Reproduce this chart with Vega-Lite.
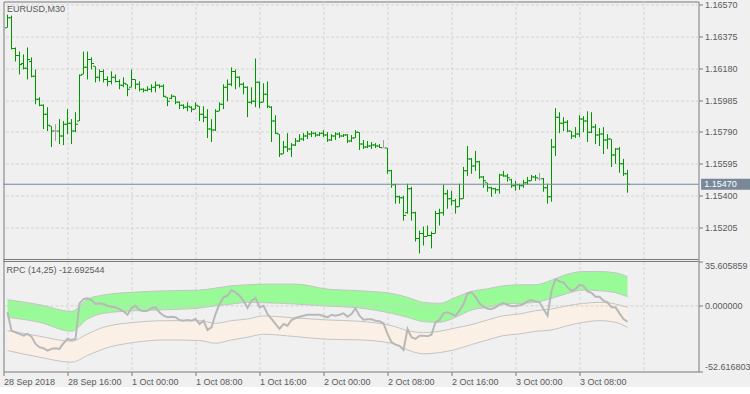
{
"$schema": "https://vega.github.io/schema/vega-lite/v6.json",
"background": "#f0f0f0",
"padding": {"left": 2.5, "top": 0.5, "right": 0, "bottom": 0},
"autosize": {"type": "pad"},
"width": 695,
"height": 370,
"config": {
 "view": {"stroke": "#7a7a7a", "strokeWidth": 1},
 "font": "Liberation Sans",
 "axis": {"labelFont": "Liberation Sans", "labelFontSize": 9, "labelColor": "#5a5a5a", "tickColor": "#7a7a7a", "gridColor": "#d4d4d4", "gridDash": [3, 2]}
},
"resolve": {"scale": {"y": "independent"}, "axis": {"y": "independent"}},
"datasets": {
"bars": [
{"k":0,"o":1.16429,"h":1.16509,"l":1.16429,"c":1.1649,"rpc":-5.15},
{"k":1,"o":1.1649,"h":1.16503,"l":1.16295,"c":1.16301,"rpc":-19.85},
{"k":2,"o":1.16301,"h":1.16308,"l":1.16222,"c":1.16259,"rpc":-21.13},
{"k":3,"o":1.16259,"h":1.16283,"l":1.16143,"c":1.16204,"rpc":-22.49},
{"k":4,"o":1.1621,"h":1.16265,"l":1.16173,"c":1.1618,"rpc":-23.85},
{"k":5,"o":1.1618,"h":1.16308,"l":1.16112,"c":1.16234,"rpc":-22.49},
{"k":6,"o":1.16222,"h":1.16247,"l":1.16125,"c":1.16131,"rpc":-24.65},
{"k":7,"o":1.16131,"h":1.16173,"l":1.1596,"c":1.15991,"rpc":-30.48},
{"k":8,"o":1.15991,"h":1.16003,"l":1.15948,"c":1.15954,"rpc":-33.12},
{"k":9,"o":1.15954,"h":1.1596,"l":1.15808,"c":1.15899,"rpc":-33.92},
{"k":10,"o":1.15899,"h":1.15942,"l":1.15796,"c":1.15832,"rpc":-35.84},
{"k":11,"o":1.15826,"h":1.15826,"l":1.15698,"c":1.15796,"rpc":-34.48},
{"k":12,"o":1.15796,"h":1.15838,"l":1.15735,"c":1.15796,"rpc":-33.92},
{"k":13,"o":1.15796,"h":1.15869,"l":1.15716,"c":1.15765,"rpc":-34.48},
{"k":14,"o":1.15765,"h":1.15857,"l":1.1571,"c":1.15838,"rpc":-29.92},
{"k":15,"o":1.15838,"h":1.1593,"l":1.15777,"c":1.15844,"rpc":-26.49},
{"k":16,"o":1.15844,"h":1.15869,"l":1.15716,"c":1.15796,"rpc":-27.28},
{"k":17,"o":1.15796,"h":1.15911,"l":1.15789,"c":1.15838,"rpc":-26.49},
{"k":18,"o":1.15857,"h":1.16143,"l":1.15857,"c":1.16137,"rpc":2.04},
{"k":19,"o":1.16143,"h":1.16283,"l":1.16143,"c":1.16186,"rpc":5.48},
{"k":20,"o":1.16186,"h":1.16283,"l":1.16112,"c":1.16234,"rpc":6.04},
{"k":21,"o":1.16234,"h":1.16247,"l":1.16173,"c":1.1621,"rpc":4.68},
{"k":22,"o":1.16192,"h":1.16192,"l":1.16094,"c":1.16125,"rpc":1.49},
{"k":23,"o":1.16125,"h":1.16173,"l":1.161,"c":1.16161,"rpc":2.04},
{"k":24,"o":1.16161,"h":1.16173,"l":1.16094,"c":1.16112,"rpc":1.49},
{"k":25,"o":1.16112,"h":1.16131,"l":1.1607,"c":1.161,"rpc":0.13},
{"k":26,"o":1.161,"h":1.16161,"l":1.16082,"c":1.16125,"rpc":-0.67},
{"k":27,"o":1.16125,"h":1.16143,"l":1.16094,"c":1.161,"rpc":-1.15},
{"k":28,"o":1.161,"h":1.16112,"l":1.16052,"c":1.16076,"rpc":-2.51},
{"k":29,"o":1.16076,"h":1.16125,"l":1.16064,"c":1.16088,"rpc":-4.35},
{"k":30,"o":1.16082,"h":1.16082,"l":1.16009,"c":1.16052,"rpc":-7.07},
{"k":31,"o":1.16064,"h":1.16173,"l":1.16064,"c":1.16112,"rpc":-1.71},
{"k":32,"o":1.16112,"h":1.16112,"l":1.16052,"c":1.16082,"rpc":0.13},
{"k":33,"o":1.16082,"h":1.161,"l":1.16039,"c":1.16052,"rpc":-3.31},
{"k":34,"o":1.16052,"h":1.16058,"l":1.16033,"c":1.16045,"rpc":-4.35},
{"k":35,"o":1.16045,"h":1.1607,"l":1.16039,"c":1.16052,"rpc":-3.87},
{"k":36,"o":1.16052,"h":1.16082,"l":1.16033,"c":1.16064,"rpc":-1.71},
{"k":37,"o":1.16064,"h":1.161,"l":1.16033,"c":1.16076,"rpc":-1.15},
{"k":38,"o":1.16076,"h":1.16082,"l":1.16058,"c":1.1607,"rpc":-5.15},
{"k":39,"o":1.1607,"h":1.16082,"l":1.16003,"c":1.16009,"rpc":-7.87},
{"k":40,"o":1.16003,"h":1.16003,"l":1.15948,"c":1.15978,"rpc":-9.14},
{"k":41,"o":1.15997,"h":1.16021,"l":1.15991,"c":1.16009,"rpc":-8.66},
{"k":42,"o":1.16009,"h":1.16009,"l":1.1596,"c":1.15972,"rpc":-9.14},
{"k":43,"o":1.15972,"h":1.15978,"l":1.1593,"c":1.15954,"rpc":-11.3},
{"k":44,"o":1.15954,"h":1.1596,"l":1.1593,"c":1.15942,"rpc":-11.86},
{"k":45,"o":1.15942,"h":1.15972,"l":1.15917,"c":1.15948,"rpc":-11.3},
{"k":46,"o":1.15942,"h":1.15948,"l":1.15911,"c":1.1593,"rpc":-11.86},
{"k":47,"o":1.1593,"h":1.15972,"l":1.1593,"c":1.15954,"rpc":-10.5},
{"k":48,"o":1.15948,"h":1.15948,"l":1.15857,"c":1.15899,"rpc":-14.5},
{"k":49,"o":1.15899,"h":1.15948,"l":1.1585,"c":1.15881,"rpc":-11.86},
{"k":50,"o":1.15881,"h":1.1593,"l":1.15753,"c":1.15808,"rpc":-19.29},
{"k":51,"o":1.15808,"h":1.15869,"l":1.15729,"c":1.15802,"rpc":-17.13},
{"k":52,"o":1.15802,"h":1.1593,"l":1.15796,"c":1.15917,"rpc":-6.51},
{"k":53,"o":1.15917,"h":1.15972,"l":1.15917,"c":1.1596,"rpc":1.49},
{"k":54,"o":1.1596,"h":1.16082,"l":1.1593,"c":1.16064,"rpc":6.84},
{"k":55,"o":1.16064,"h":1.16112,"l":1.15978,"c":1.16082,"rpc":8.12},
{"k":56,"o":1.16082,"h":1.16186,"l":1.1607,"c":1.16161,"rpc":12.67},
{"k":57,"o":1.16161,"h":1.16173,"l":1.16052,"c":1.16125,"rpc":10.83},
{"k":58,"o":1.16125,"h":1.16131,"l":1.16064,"c":1.16082,"rpc":8.12},
{"k":59,"o":1.16082,"h":1.16094,"l":1.16021,"c":1.16064,"rpc":4.12},
{"k":60,"o":1.16064,"h":1.1607,"l":1.15881,"c":1.15972,"rpc":-1.71},
{"k":61,"o":1.15972,"h":1.16064,"l":1.1596,"c":1.15978,"rpc":4.12},
{"k":62,"o":1.15978,"h":1.1624,"l":1.15942,"c":1.16094,"rpc":6.28},
{"k":63,"o":1.16094,"h":1.161,"l":1.15936,"c":1.15972,"rpc":-1.15},
{"k":64,"o":1.15972,"h":1.16088,"l":1.15972,"c":1.16021,"rpc":0.13},
{"k":65,"o":1.16021,"h":1.161,"l":1.15936,"c":1.15948,"rpc":-6.51},
{"k":66,"o":1.15942,"h":1.15948,"l":1.15729,"c":1.15857,"rpc":-10.5},
{"k":67,"o":1.15857,"h":1.15893,"l":1.15777,"c":1.15783,"rpc":-14.5},
{"k":68,"o":1.15777,"h":1.15777,"l":1.15637,"c":1.15655,"rpc":-18.49},
{"k":69,"o":1.15655,"h":1.15735,"l":1.15655,"c":1.15698,"rpc":-14.5},
{"k":70,"o":1.15698,"h":1.15783,"l":1.15668,"c":1.15686,"rpc":-15.86},
{"k":71,"o":1.15686,"h":1.15722,"l":1.15637,"c":1.1571,"rpc":-11.3},
{"k":72,"o":1.1571,"h":1.15753,"l":1.15704,"c":1.15735,"rpc":-9.7},
{"k":73,"o":1.15735,"h":1.15777,"l":1.15729,"c":1.15747,"rpc":-8.66},
{"k":74,"o":1.15747,"h":1.15783,"l":1.15735,"c":1.15765,"rpc":-7.87},
{"k":75,"o":1.15765,"h":1.15796,"l":1.15747,"c":1.15777,"rpc":-7.07},
{"k":76,"o":1.15777,"h":1.15796,"l":1.15759,"c":1.15783,"rpc":-7.07},
{"k":77,"o":1.15783,"h":1.15789,"l":1.15759,"c":1.15771,"rpc":-7.07},
{"k":78,"o":1.15771,"h":1.15789,"l":1.15765,"c":1.15783,"rpc":-7.07},
{"k":79,"o":1.15783,"h":1.15802,"l":1.15759,"c":1.15771,"rpc":-8.11},
{"k":80,"o":1.15771,"h":1.15789,"l":1.15729,"c":1.15741,"rpc":-9.14},
{"k":81,"o":1.15741,"h":1.15777,"l":1.15735,"c":1.15765,"rpc":-7.07},
{"k":82,"o":1.15765,"h":1.15789,"l":1.15741,"c":1.15777,"rpc":-7.87},
{"k":83,"o":1.15777,"h":1.15789,"l":1.15753,"c":1.15765,"rpc":-7.07},
{"k":84,"o":1.15765,"h":1.15777,"l":1.15759,"c":1.15771,"rpc":-5.95},
{"k":85,"o":1.15771,"h":1.15777,"l":1.15722,"c":1.15735,"rpc":-8.66},
{"k":86,"o":1.15735,"h":1.15771,"l":1.15729,"c":1.15753,"rpc":-6.51},
{"k":87,"o":1.15753,"h":1.15802,"l":1.15753,"c":1.15789,"rpc":-1.95},
{"k":88,"o":1.15789,"h":1.15789,"l":1.1568,"c":1.15716,"rpc":-7.87},
{"k":89,"o":1.15716,"h":1.15741,"l":1.15686,"c":1.15698,"rpc":-11.06},
{"k":90,"o":1.15698,"h":1.15735,"l":1.15692,"c":1.15704,"rpc":-10.74},
{"k":91,"o":1.15704,"h":1.15729,"l":1.15686,"c":1.1571,"rpc":-10.74},
{"k":92,"o":1.1571,"h":1.15722,"l":1.15692,"c":1.15704,"rpc":-11.86},
{"k":93,"o":1.15704,"h":1.15716,"l":1.15692,"c":1.15695,"rpc":-12.34},
{"k":94,"o":1.15692,"h":1.15741,"l":1.15692,"c":1.15692,"rpc":-13.94},
{"k":95,"o":1.15692,"h":1.15692,"l":1.15534,"c":1.15552,"rpc":-22.49},
{"k":96,"o":1.15552,"h":1.15558,"l":1.15448,"c":1.15467,"rpc":-29.12},
{"k":97,"o":1.15467,"h":1.15473,"l":1.15351,"c":1.15393,"rpc":-31.04},
{"k":98,"o":1.15393,"h":1.154,"l":1.15351,"c":1.15387,"rpc":-32.08},
{"k":99,"o":1.15387,"h":1.154,"l":1.15247,"c":1.15278,"rpc":-35.28},
{"k":100,"o":1.15296,"h":1.15473,"l":1.1529,"c":1.15442,"rpc":-18.49},
{"k":101,"o":1.15442,"h":1.15454,"l":1.15247,"c":1.15296,"rpc":-25.13},
{"k":102,"o":1.15296,"h":1.15302,"l":1.15119,"c":1.15137,"rpc":-26.49},
{"k":103,"o":1.15137,"h":1.15186,"l":1.15046,"c":1.15168,"rpc":-23.85},
{"k":104,"o":1.15168,"h":1.15211,"l":1.15095,"c":1.1515,"rpc":-23.85},
{"k":105,"o":1.1515,"h":1.15217,"l":1.1515,"c":1.15156,"rpc":-24.33},
{"k":106,"o":1.15156,"h":1.1518,"l":1.15077,"c":1.15168,"rpc":-23.05},
{"k":107,"o":1.15168,"h":1.15308,"l":1.15168,"c":1.1529,"rpc":-13.14},
{"k":108,"o":1.1529,"h":1.1532,"l":1.15217,"c":1.15296,"rpc":-11.3},
{"k":109,"o":1.15296,"h":1.15467,"l":1.15278,"c":1.15412,"rpc":-5.95},
{"k":110,"o":1.15412,"h":1.15436,"l":1.1532,"c":1.15381,"rpc":-5.15},
{"k":111,"o":1.15381,"h":1.1543,"l":1.15339,"c":1.15369,"rpc":-6.51},
{"k":112,"o":1.15369,"h":1.15381,"l":1.1529,"c":1.15332,"rpc":-7.87},
{"k":113,"o":1.15332,"h":1.15473,"l":1.15332,"c":1.15381,"rpc":-3.87},
{"k":114,"o":1.15381,"h":1.15576,"l":1.15381,"c":1.15552,"rpc":1.49},
{"k":115,"o":1.15552,"h":1.15704,"l":1.15521,"c":1.15625,"rpc":10.03},
{"k":116,"o":1.15625,"h":1.15631,"l":1.15534,"c":1.15582,"rpc":10.83},
{"k":117,"o":1.15582,"h":1.15674,"l":1.15552,"c":1.15607,"rpc":7.32},
{"k":118,"o":1.15607,"h":1.15613,"l":1.15503,"c":1.15515,"rpc":2.04},
{"k":119,"o":1.15515,"h":1.15521,"l":1.15448,"c":1.15491,"rpc":-0.67},
{"k":120,"o":1.15479,"h":1.15479,"l":1.15424,"c":1.15448,"rpc":-2.27},
{"k":121,"o":1.15448,"h":1.15454,"l":1.15393,"c":1.15442,"rpc":-2.51},
{"k":122,"o":1.15442,"h":1.15448,"l":1.15412,"c":1.15436,"rpc":-1.15},
{"k":123,"o":1.15436,"h":1.15534,"l":1.15412,"c":1.15527,"rpc":0.93},
{"k":124,"o":1.15527,"h":1.15552,"l":1.15515,"c":1.15521,"rpc":2.28},
{"k":125,"o":1.15521,"h":1.15534,"l":1.15485,"c":1.15509,"rpc":0.93},
{"k":126,"o":1.15497,"h":1.15503,"l":1.15448,"c":1.1546,"rpc":-0.35},
{"k":127,"o":1.1546,"h":1.15491,"l":1.1543,"c":1.15467,"rpc":-0.11},
{"k":128,"o":1.15467,"h":1.15473,"l":1.15436,"c":1.1546,"rpc":0.45},
{"k":129,"o":1.1546,"h":1.15497,"l":1.15448,"c":1.15479,"rpc":1.49},
{"k":130,"o":1.15479,"h":1.15515,"l":1.15467,"c":1.15491,"rpc":3.64},
{"k":131,"o":1.15491,"h":1.15527,"l":1.15491,"c":1.15515,"rpc":4.68},
{"k":132,"o":1.15515,"h":1.15527,"l":1.15491,"c":1.15509,"rpc":3.64},
{"k":133,"o":1.15503,"h":1.1554,"l":1.15491,"c":1.15503,"rpc":2.84},
{"k":134,"o":1.15503,"h":1.15509,"l":1.15424,"c":1.15448,"rpc":-2.51},
{"k":135,"o":1.15448,"h":1.15473,"l":1.15351,"c":1.15393,"rpc":-7.87},
{"k":136,"o":1.15393,"h":1.15747,"l":1.15363,"c":1.15698,"rpc":12.11},
{"k":137,"o":1.15698,"h":1.15936,"l":1.15643,"c":1.15881,"rpc":21.46},
{"k":138,"o":1.15881,"h":1.15911,"l":1.15783,"c":1.15844,"rpc":19.62},
{"k":139,"o":1.15844,"h":1.15881,"l":1.15796,"c":1.1585,"rpc":18.82},
{"k":140,"o":1.1585,"h":1.15863,"l":1.15789,"c":1.15796,"rpc":14.83},
{"k":141,"o":1.15796,"h":1.15796,"l":1.15747,"c":1.15765,"rpc":12.11},
{"k":142,"o":1.15765,"h":1.1582,"l":1.15753,"c":1.15777,"rpc":13.47},
{"k":143,"o":1.15777,"h":1.15893,"l":1.15759,"c":1.15869,"rpc":16.91},
{"k":144,"o":1.15869,"h":1.15887,"l":1.15789,"c":1.15857,"rpc":16.11},
{"k":145,"o":1.15857,"h":1.15917,"l":1.15729,"c":1.15789,"rpc":11.63},
{"k":146,"o":1.15789,"h":1.15911,"l":1.15783,"c":1.1582,"rpc":10.51},
{"k":147,"o":1.1582,"h":1.15838,"l":1.15716,"c":1.15771,"rpc":7.32},
{"k":148,"o":1.15771,"h":1.15814,"l":1.15704,"c":1.15777,"rpc":7.32},
{"k":149,"o":1.15777,"h":1.1582,"l":1.15655,"c":1.15741,"rpc":4.12},
{"k":150,"o":1.15741,"h":1.15777,"l":1.15686,"c":1.15747,"rpc":2.84},
{"k":151,"o":1.15747,"h":1.15747,"l":1.15576,"c":1.15649,"rpc":-1.15},
{"k":152,"o":1.15649,"h":1.15692,"l":1.15595,"c":1.15686,"rpc":-1.15},
{"k":153,"o":1.15686,"h":1.15698,"l":1.1554,"c":1.15595,"rpc":-5.95},
{"k":154,"o":1.15595,"h":1.15625,"l":1.15521,"c":1.15534,"rpc":-10.5},
{"k":155,"o":1.15534,"h":1.15558,"l":1.15418,"c":1.1547,"rpc":-12.692544}
],
"bands": [
{"k":0,"gt":4.95,"gb":-9.17,"lt":-19.83,"lb":-35.81},
{"k":8,"gt":0.95,"gb":-13.17,"lt":-24.35,"lb":-41.14},
{"k":16,"gt":-4.38,"gb":-20.36,"lt":-28.35,"lb":-45.13},
{"k":20,"gt":5.48,"gb":-10.5,"lt":-22.49,"lb":-39.8},
{"k":24,"gt":8.68,"gb":-5.97,"lt":-17.16,"lb":-34.48},
{"k":32,"gt":11.07,"gb":-3.84,"lt":-13.17,"lb":-29.15},
{"k":40,"gt":12.14,"gb":-3.05,"lt":-11.83,"lb":-27.28},
{"k":48,"gt":12.67,"gb":-1.71,"lt":-11.83,"lb":-27.82},
{"k":52,"gt":14.27,"gb":0.15,"lt":-13.97,"lb":-29.95},
{"k":56,"gt":16.13,"gb":1.48,"lt":-11.83,"lb":-27.28},
{"k":60,"gt":16.93,"gb":2.82,"lt":-10.5,"lb":-25.15},
{"k":64,"gt":17.47,"gb":2.55,"lt":-8.1,"lb":-22.75},
{"k":72,"gt":17.47,"gb":1.48,"lt":-9.7,"lb":-24.62},
{"k":80,"gt":13.47,"gb":-0.11,"lt":-11.3,"lb":-26.75},
{"k":88,"gt":12.14,"gb":-1.71,"lt":-12.37,"lb":-27.28},
{"k":96,"gt":10.01,"gb":-5.97,"lt":-15.83,"lb":-29.95},
{"k":100,"gt":6.81,"gb":-9.17,"lt":-19.83,"lb":-35.28},
{"k":104,"gt":2.82,"gb":-12.63,"lt":-21.42,"lb":-38.47},
{"k":108,"gt":2.02,"gb":-13.17,"lt":-20.36,"lb":-37.41},
{"k":112,"gt":6.81,"gb":-9.17,"lt":-17.7,"lb":-35.01},
{"k":116,"gt":11.61,"gb":-3.31,"lt":-15.03,"lb":-31.01},
{"k":120,"gt":13.74,"gb":-1.18,"lt":-11.3,"lb":-27.28},
{"k":124,"gt":16.13,"gb":1.48,"lt":-7.84,"lb":-23.82},
{"k":128,"gt":16.93,"gb":2.02,"lt":-6.51,"lb":-22.49},
{"k":132,"gt":16.93,"gb":2.82,"lt":-3.84,"lb":-20.36},
{"k":136,"gt":20.66,"gb":6.01,"lt":-2.51,"lb":-19.29},
{"k":140,"gt":25.46,"gb":10.01,"lt":0.15,"lb":-15.83},
{"k":144,"gt":27.59,"gb":12.67,"lt":2.02,"lb":-13.17},
{"k":148,"gt":27.59,"gb":12.14,"lt":2.82,"lb":-11.83},
{"k":152,"gt":26.52,"gb":10.54,"lt":1.48,"lb":-13.17},
{"k":155,"gt":23.33,"gb":7.34,"lt":-1.18,"lb":-17.16}
]
},
"layer": [
  {
   "data": {"name": "bands"},
   "mark": {"type": "area", "color": "#98fb98", "opacity": 1, "interpolate": "monotone"},
   "encoding": {
    "x": {"field": "k", "type": "quantitative", "scale": {"domain": [-1, 172.75], "nice": false, "zero": false}, "title": null,
          "axis": {"orient": "bottom", "values": [-1,7,15,23,31,39,47,55,63,71,79,87,95,103,111,119,127,135,143,151,159,167], "grid": true,
                   "gridOpacity": {"condition": {"test": "datum.value < 0", "value": 0}, "value": 1},
                   "ticks": true, "tickSize": 4,
                   "tickOpacity": {"condition": {"test": "datum.value < 0 || (datum.value <= 143 && (datum.value - 15) % 16 == 0)", "value": 1}, "value": 0},
                   "labelExpr": "datum.value < 0 ? '28 Sep 2018' : datum.value == 15 ? '28 Sep 16:00' : datum.value == 31 ? '1 Oct 00:00' : datum.value == 47 ? '1 Oct 08:00' : datum.value == 63 ? '1 Oct 16:00' : datum.value == 79 ? '2 Oct 00:00' : datum.value == 95 ? '2 Oct 08:00' : datum.value == 111 ? '2 Oct 16:00' : datum.value == 127 ? '3 Oct 00:00' : datum.value == 143 ? '3 Oct 08:00' : ''",
                   "labelAlign": "left", "labelBaseline": "top", "labelPadding": 2, "labelFlush": false, "labelOverlap": false, "domain": false}},
    "y": {"field": "gt", "type": "quantitative", "scale": {"domain": [-52.616803, 244.1312], "nice": false, "zero": false}, "title": null,
          "axis": {"orient": "right", "values": [-52.616803, 0, 35.605859], "labelExpr": "datum.value < 0 ? '-' + format(-datum.value, '.6f') : format(datum.value, '.6f')",
                   "labelBaseline": {"condition": [{"test": "datum.value > 30", "value": "top"}, {"test": "datum.value < -50", "value": "bottom"}], "value": "middle"},
                   "labelOverlap": false, "grid": false, "ticks": true, "tickSize": 4, "labelPadding": 2, "domain": false}},
    "y2": {"field": "gb"}
   }
  },
  {
   "data": {"name": "bands"},
   "mark": {"type": "area", "color": "#faf0e6", "opacity": 1, "interpolate": "monotone"},
   "encoding": {
    "x": {"field": "k", "type": "quantitative", "title": null},
    "y": {"field": "lt", "type": "quantitative", "scale": {"domain": [-52.616803, 244.1312], "nice": false, "zero": false}, "axis": null},
    "y2": {"field": "lb"}
   }
  },
  {
   "data": {"values": [{"level": 0}]},
   "mark": {"type": "rule", "color": "#cfcfcf", "strokeDash": [3, 2], "strokeWidth": 1},
   "encoding": {"y": {"field": "level", "type": "quantitative", "scale": {"domain": [-52.616803, 244.1312], "nice": false, "zero": false}, "axis": null}}
  },
  {
   "data": {"name": "bands"},
   "mark": {"type": "line", "color": "#c4c4c4", "strokeWidth": 1, "interpolate": "monotone"},
   "encoding": {"x": {"field": "k", "type": "quantitative", "title": null}, "y": {"field": "gt", "type": "quantitative", "scale": {"domain": [-52.616803, 244.1312], "nice": false, "zero": false}, "axis": null}}
  },
  {
   "data": {"name": "bands"},
   "mark": {"type": "line", "color": "#c4c4c4", "strokeWidth": 1, "interpolate": "monotone"},
   "encoding": {"x": {"field": "k", "type": "quantitative", "title": null}, "y": {"field": "gb", "type": "quantitative", "scale": {"domain": [-52.616803, 244.1312], "nice": false, "zero": false}, "axis": null}}
  },
  {
   "data": {"name": "bands"},
   "mark": {"type": "line", "color": "#c4c4c4", "strokeWidth": 1, "interpolate": "monotone"},
   "encoding": {"x": {"field": "k", "type": "quantitative", "title": null}, "y": {"field": "lt", "type": "quantitative", "scale": {"domain": [-52.616803, 244.1312], "nice": false, "zero": false}, "axis": null}}
  },
  {
   "data": {"name": "bands"},
   "mark": {"type": "line", "color": "#c4c4c4", "strokeWidth": 1, "interpolate": "monotone"},
   "encoding": {"x": {"field": "k", "type": "quantitative", "title": null}, "y": {"field": "lb", "type": "quantitative", "scale": {"domain": [-52.616803, 244.1312], "nice": false, "zero": false}, "axis": null}}
  },
  {
   "data": {"name": "bars"},
   "mark": {"type": "line", "color": "#b8b8b8", "strokeWidth": 2},
   "encoding": {"x": {"field": "k", "type": "quantitative", "title": null}, "y": {"field": "rpc", "type": "quantitative", "scale": {"domain": [-52.616803, 244.1312], "nice": false, "zero": false}, "axis": null}}
  },
  {
   "data": {"values": [{"edge": 35.605859}]},
   "mark": {"type": "rule", "color": "#7a7a7a", "strokeWidth": 1},
   "encoding": {"y": {"field": "edge", "type": "quantitative", "scale": {"domain": [-52.616803, 244.1312], "nice": false, "zero": false}, "axis": null}}
  },
  {
   "data": {"values": [{"edge": 1.15009}]},
   "mark": {"type": "rule", "color": "#7a7a7a", "strokeWidth": 1},
   "encoding": {"y": {"field": "edge", "type": "quantitative", "scale": {"domain": [1.143229, 1.165894], "nice": false, "zero": false}, "axis": null}}
  },
  {
   "data": {"name": "bars"},
   "mark": {"type": "rule", "strokeWidth": 1},
   "encoding": {
    "x": {"field": "k", "type": "quantitative", "title": null},
    "y": {"field": "h", "type": "quantitative", "scale": {"domain": [1.143229, 1.165894], "nice": false, "zero": false}, "title": null,
          "axis": {"orient": "right", "values": [1.15205, 1.154, 1.15595, 1.1579, 1.15985, 1.1618, 1.16375, 1.1657], "format": ".5f", "grid": true, "ticks": true, "tickSize": 4, "labelPadding": 2, "domain": false, "labelOverlap": false}},
    "y2": {"field": "l"},
    "color": {"condition": {"test": "datum.o === datum.c", "value": "#a0a0a0"}, "value": "#009600"}
   }
  },
  {
   "data": {"name": "bars"},
   "mark": {"type": "tick", "orient": "horizontal", "size": 2, "thickness": 1, "xOffset": -1.5, "opacity": 1},
   "encoding": {
    "x": {"field": "k", "type": "quantitative", "title": null},
    "y": {"field": "o", "type": "quantitative", "scale": {"domain": [1.143229, 1.165894], "nice": false, "zero": false}, "axis": null},
    "color": {"condition": {"test": "datum.o === datum.c", "value": "#a0a0a0"}, "value": "#009600"}
   }
  },
  {
   "data": {"name": "bars"},
   "mark": {"type": "tick", "orient": "horizontal", "size": 2, "thickness": 1, "xOffset": 1.5, "opacity": 1},
   "encoding": {
    "x": {"field": "k", "type": "quantitative", "title": null},
    "y": {"field": "c", "type": "quantitative", "scale": {"domain": [1.143229, 1.165894], "nice": false, "zero": false}, "axis": null},
    "color": {"condition": {"test": "datum.o === datum.c", "value": "#a0a0a0"}, "value": "#009600"}
   }
  },
  {
   "data": {"values": [{"price": 1.1547}]},
   "mark": {"type": "rule", "color": "#778899", "strokeWidth": 1},
   "encoding": {"y": {"field": "price", "type": "quantitative", "scale": {"domain": [1.143229, 1.165894], "nice": false, "zero": false}, "axis": null}}
  },
  {
   "data": {"values": [{"price": 1.1547}]},
   "mark": {"type": "rect", "color": "#778899"},
   "encoding": {
    "x": {"datum": 173.4, "type": "quantitative", "title": null},
    "x2": {"datum": 186.5},
    "y": {"datum": 1.15503, "type": "quantitative", "scale": {"domain": [1.143229, 1.165894], "nice": false, "zero": false}, "axis": null},
    "y2": {"datum": 1.15437}
   }
  },
  {
   "data": {"values": [{"price": 1.1547}]},
   "mark": {"type": "text", "align": "left", "baseline": "middle", "color": "#ffffff", "font": "Liberation Sans", "fontSize": 9},
   "encoding": {
    "x": {"datum": 174.2, "type": "quantitative", "title": null},
    "y": {"field": "price", "type": "quantitative", "scale": {"domain": [1.143229, 1.165894], "nice": false, "zero": false}, "axis": null},
    "text": {"field": "price", "format": ".5f"}
   }
  },
  {
   "data": {"values": [{"label": "EURUSD,M30"}]},
   "mark": {"type": "text", "align": "left", "baseline": "alphabetic", "color": "#5a5a5a", "font": "Liberation Sans", "fontSize": 9},
   "encoding": {
    "x": {"datum": -0.15, "type": "quantitative", "title": null},
    "y": {"datum": 1.16527, "type": "quantitative", "scale": {"domain": [1.143229, 1.165894], "nice": false, "zero": false}, "axis": null},
    "text": {"field": "label"}
   }
  },
  {
   "data": {"values": [{"label": "RPC (14,25) -12.692544"}]},
   "mark": {"type": "text", "align": "left", "baseline": "alphabetic", "color": "#5a5a5a", "font": "Liberation Sans", "fontSize": 9},
   "encoding": {
    "x": {"datum": -0.25, "type": "quantitative", "title": null},
    "y": {"datum": 26.14, "type": "quantitative", "scale": {"domain": [-52.616803, 244.1312], "nice": false, "zero": false}, "axis": null},
    "text": {"field": "label"}
   }
  }
]
}
